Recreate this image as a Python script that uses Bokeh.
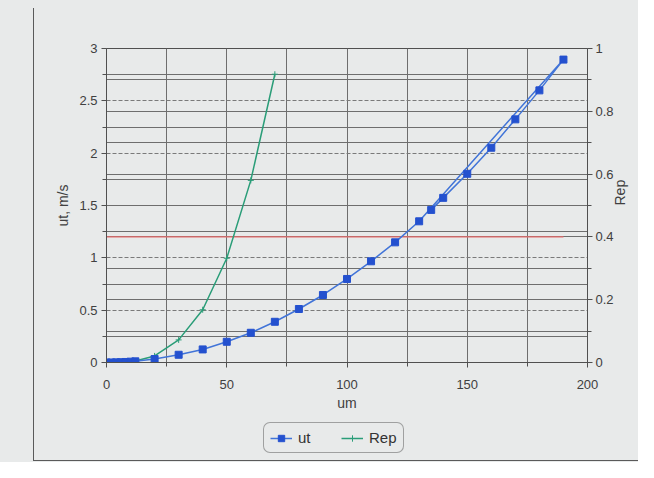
import math
from bokeh.plotting import figure
from bokeh.layouts import column
from bokeh.models import (Range1d, LinearAxis, FixedTicker, Grid, Legend, LegendItem,
                          PrintfTickFormatter)
from bokeh.embed import file_html
from bokeh.resources import INLINE

# ---- data ----
um_ut = [0, 2, 4, 6, 8, 10, 12, 20, 30, 40, 50, 60, 70, 80, 90, 100, 110, 120,
         130, 190, 180, 170, 160, 150, 140, 135]
ut = [0.0, 0.0004, 0.0014, 0.003, 0.005, 0.008, 0.011, 0.033, 0.074, 0.125, 0.198,
      0.284, 0.389, 0.511, 0.645, 0.798, 0.967, 1.148,
      1.349, 2.894, 2.600, 2.323, 2.052, 1.803, 1.573, 1.458]
um_rep = [0, 2, 4, 6, 8, 10, 12, 20, 30, 40, 50, 60, 70]
rep = [0.0, 0.00002, 0.0002, 0.0006, 0.0014, 0.0027, 0.0046, 0.021, 0.072, 0.168,
       0.332, 0.58, 0.918]
ref_um = [0, 190]
ref_rep = [0.4, 0.4]

x_ticks = [0, 50, 100, 150, 200]
x_minor = [25, 75, 125, 175]
ut_ticks = [0, 0.5, 1, 1.5, 2, 2.5, 3]
ut_minor = [0.25, 0.75, 1.25, 1.75, 2.25, 2.75]
rep_ticks = [0, 0.2, 0.4, 0.6, 0.8, 1]
rep_minor = [0.1, 0.3, 0.5, 0.7, 0.9]
legend_labels = ["ut", "Rep"]

BG = "#e8eaea"
FONT = "Liberation Sans"
GRID = "#6e6e6e"
AX = "#505050"
FRAME = "#5a5a5a"
UT_LINE, UT_MARK, REP_COL, RED = "#4174d8", "#2451cf", "#2a9d78", "#e46a6a"

W, H1, H2 = 638, 416, 46

p = figure(width=W, height=H1, x_range=Range1d(0, 200), y_range=Range1d(0, 3),
           output_backend="svg", toolbar_location=None,
           min_border_left=106, min_border_right=50, min_border_top=48, min_border_bottom=H1 - 362,
           background_fill_color=BG, border_fill_color=BG, border_fill_alpha=0,
           outline_line_color=AX, outline_line_width=1)
p.styles = {
    "background-color": BG,
    "background-image": f"linear-gradient({FRAME}, {FRAME})",
    "background-size": f"1px {H1 - 8}px",
    "background-position": "33px 8px",
    "background-repeat": "no-repeat",
}
p.extra_y_ranges = {"rep": Range1d(0, 1)}

# axes
xa = p.xaxis[0]
xa.ticker = FixedTicker(ticks=x_ticks, minor_ticks=x_minor)
xa.formatter = PrintfTickFormatter(format="%g")
xa.axis_label = "um"
ya = p.yaxis[0]
ya.ticker = FixedTicker(ticks=ut_ticks, minor_ticks=ut_minor)
ya.formatter = PrintfTickFormatter(format="%g")
ya.axis_label = "ut, m/s"
ra = LinearAxis(y_range_name="rep", ticker=FixedTicker(ticks=rep_ticks, minor_ticks=rep_minor),
                formatter=PrintfTickFormatter(format="%g"), axis_label="Rep")
p.add_layout(ra, "right")
try:
    ra.axis_label_orientation = math.pi / 2
except Exception:
    pass

for ax in (xa, ya, ra):
    ax.axis_line_color = AX
    ax.major_tick_line_color = AX
    ax.minor_tick_line_color = AX
    ax.major_tick_out = 5
    ax.major_tick_in = 0
    ax.minor_tick_out = 4
    ax.minor_tick_in = 0
    ax.major_label_text_font = FONT
    ax.major_label_text_font_size = "13px"
    ax.major_label_text_color = "#404040"
    ax.axis_label_text_font = FONT
    ax.axis_label_text_font_size = "14px"
    ax.axis_label_text_font_style = "normal"
    ax.axis_label_text_color = "#404040"
xa.major_label_standoff = 12
xa.axis_label_standoff = 3
ya.major_label_standoff = 4
ya.axis_label_standoff = 5
ra.major_label_standoff = 3
ra.axis_label_standoff = 3

# grids
p.xgrid.ticker = FixedTicker(ticks=[0, 25, 50, 75, 100, 125, 150, 175, 200])
p.xgrid.grid_line_color = GRID
p.ygrid.ticker = FixedTicker(ticks=ut_ticks)
p.ygrid.grid_line_color = "#7a7a7a"
p.ygrid.grid_line_dash = "4 2"
p.add_layout(Grid(dimension=1, ticker=FixedTicker(ticks=ut_minor), grid_line_color=GRID))
p.add_layout(Grid(dimension=1, ticker=FixedTicker(ticks=rep_minor + rep_ticks), y_range_name="rep",
                  grid_line_color=GRID))

# series
p.line(ref_um, ref_rep, y_range_name="rep", line_color=RED, line_width=1.2)
p.line(um_rep, rep, y_range_name="rep", line_color=REP_COL, line_width=1.5)
p.scatter(um_rep, rep, y_range_name="rep", marker="cross", size=6,
          line_color=REP_COL, line_width=1)
p.line(um_ut, ut, line_color=UT_LINE, line_width=1.5)
p.scatter(um_ut, ut, marker="square", size=7, fill_color=UT_MARK, line_color=UT_MARK)

# legend strip below the chart: same series, drawn out of this strip's view,
# only so that the legend can show their glyphs
q = figure(width=W, height=H2, x_range=Range1d(0, 200), y_range=Range1d(10, 11),
           output_backend="svg", toolbar_location=None,
           min_border_left=0, min_border_right=0, min_border_top=0, min_border_bottom=0,
           background_fill_color=BG, background_fill_alpha=0,
           border_fill_color=BG, border_fill_alpha=0, outline_line_color=None)
q.axis.visible = False
q.grid.visible = False
q.styles = {
    "background-color": BG,
    "background-image": f"linear-gradient({FRAME}, {FRAME}), linear-gradient({FRAME}, {FRAME})",
    "background-size": f"1px {H2 - 2}px, {W - 33}px 1px",
    "background-position": f"33px 0px, 33px {H2 - 2}px",
    "background-repeat": "no-repeat",
}
l1 = q.line(um_ut, ut, line_color=UT_LINE, line_width=1.5)
m1 = q.scatter(um_ut, ut, marker="square", size=7, fill_color=UT_MARK, line_color=UT_MARK)
l2 = q.line(um_rep, rep, line_color=REP_COL, line_width=1.5)
m2 = q.scatter(um_rep, rep, marker="cross", size=6, line_color=REP_COL, line_width=1)

legend = Legend(items=[LegendItem(label=legend_labels[0], renderers=[l1, m1]),
                       LegendItem(label=legend_labels[1], renderers=[l2, m2])],
                orientation="horizontal", location=(157, 9),
                label_text_font=FONT, label_text_font_size="15px", label_text_color="#333333",
                border_line_color="#555555", border_line_width=1,
                background_fill_color=BG, background_fill_alpha=1,
                glyph_width=22, glyph_height=16, label_height=16, label_standoff=6,
                spacing=23, padding=6, margin=0)
try:
    legend.border_radius = 7
except Exception:
    pass
q.add_layout(legend)

page = column(p, q, spacing=0)
open("out.html", "w").write(file_html(page, INLINE))
